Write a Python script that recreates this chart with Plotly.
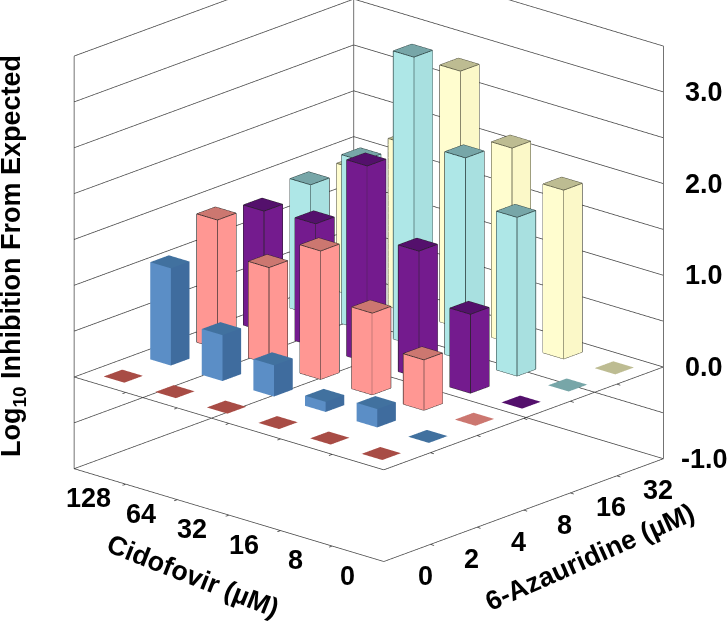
import plotly.graph_objects as go

cidofovir = ["0", "8", "16", "32", "64", "128"]
azauridine = ["0", "2", "4", "8", "16", "32"]
z_ticks = [-1, -0.5, 0, 0.5, 1, 1.5, 2, 2.5, 3, 3.5]
z_text = ["-1.0", "", "0.0", "", "1.0", "", "2.0", "", "3.0", ""]

aza_0 = [0, 0, 0, 0, 0, 0]
aza_2 = [0, 0.20, 0.11, 0.34, 0.50, 1.06]
aza_4 = [0, 0.55, 0.89, 1.40, 1.05, 1.40]
aza_8 = [0, 0.86, 1.38, 2.14, 1.34, 1.31]
aza_16 = [0, 1.73, 2.21, 3.14, 1.84, 1.41]
aza_32 = [0, 1.84, 2.13, 2.80, 1.83, 1.39]

series = [aza_0, aza_2, aza_4, aza_8, aza_16, aza_32]
face_left = ["#A84C45", "#5B8EC6", "#FF9793", "#741B8E", "#AEE7E7", "#FFFDCF"]
face_right = ["#A84C45", "#3F6C9E", "#FF9793", "#741B8E", "#A8E0E0", "#FBF8C8"]
face_top = ["#A84C45", "#41719F", "#CC7770", "#54106C", "#77A6A8", "#BDBC92"]
edge = [None, None, "#222222", "#222222", "#223333", "#444433"]

HALF = 0.2
XR = [-0.5, 5.5]
YR = [-0.5, 5.5]
ZR = [-1, 3.5]
PAD_XY = 0.1
PAD_Z = 0.05

fig = go.Figure()

def bars(values, i, c_l, c_r, c_t, ec, name):
    xs, ys, zs, I, J, K, fc = [], [], [], [], [], [], []
    lx, ly, lz = [], [], []
    for j, h in enumerate(values):
        x0, x1, y0, y1 = i - HALF, i + HALF, j - HALF, j + HALF
        n = len(xs)
        xs += [x0, x1, x1, x0, x0, x1, x1, x0]
        ys += [y0, y0, y1, y1, y0, y0, y1, y1]
        zs += [0, 0, 0, 0, h, h, h, h]
        tri = [(4, 5, 6, c_t), (4, 6, 7, c_t),
               (0, 1, 5, c_r), (0, 5, 4, c_r),
               (0, 3, 7, c_l), (0, 7, 4, c_l)]
        for a, b, c, col in tri:
            I.append(n + a); J.append(n + b); K.append(n + c); fc.append(col)
        if ec and h > 0:
            for a, b in [(4, 5), (5, 6), (6, 7), (7, 4), (0, 1), (0, 3), (0, 4), (1, 5), (3, 7)]:
                lx += [xs[n + a], xs[n + b], None]
                ly += [ys[n + a], ys[n + b], None]
                lz += [zs[n + a], zs[n + b], None]
    fig.add_trace(go.Mesh3d(x=xs, y=ys, z=zs, i=I, j=J, k=K, facecolor=fc, flatshading=True,
                            lighting=dict(ambient=1, diffuse=0, specular=0, fresnel=0),
                            name=name, hoverinfo="skip"))
    if ec:
        fig.add_trace(go.Scatter3d(x=lx, y=ly, z=lz, mode="lines", line=dict(color=ec, width=1.5),
                                   hoverinfo="skip"))

for idx, vals in enumerate(series):
    bars(vals, idx, face_left[idx], face_right[idx], face_top[idx], edge[idx], azauridine[idx])

# frame: walls, floor, zero plane, wall gridlines and cell-boundary ticks
fx, fy, fz = [], [], []
def seg(a, b):
    fx.extend([a[0], b[0], None]); fy.extend([a[1], b[1], None]); fz.extend([a[2], b[2], None])
x0, x1 = XR; y0, y1 = YR; zb, zt = ZR
for z in (zb, 0):
    seg((x0, y0, z), (x1, y0, z)); seg((x0, y0, z), (x0, y1, z))
    seg((x1, y0, z), (x1, y1, z)); seg((x0, y1, z), (x1, y1, z))
for p in ((x1, y1), (x0, y1), (x1, y0)):
    seg((p[0], p[1], zb), (p[0], p[1], zt))
for v in z_ticks:
    seg((x0, y1, v), (x1, y1, v)); seg((x1, y0, v), (x1, y1, v))
for b in [0.5, 1.5, 2.5, 3.5, 4.5]:
    for z in (zb, 0):
        seg((b, y0, z), (b, y0 - 0.07, z))
        seg((x0, b, z), (x0 - 0.07, b, z))
fig.add_trace(go.Scatter3d(x=fx, y=fy, z=fz, mode="lines", line=dict(color="#444444", width=1.5), hoverinfo="skip"))

tick = dict(family="Liberation Sans", size=27, color="black", weight=700)
common = dict(showbackground=False, showspikes=False, zeroline=False, showline=False, ticks="",
              showticklabels=False, showgrid=False, title=dict(text=""))

scene_notes = []
for j, t in enumerate(cidofovir):
    scene_notes.append(dict(x=x0, y=j, z=zb, text=t, showarrow=False, font=tick, xshift=-11, yshift=-22))
for i, t in enumerate(azauridine):
    scene_notes.append(dict(x=i, y=y0, z=zb, text=t, showarrow=False, font=tick, xshift=18, yshift=-23))
for v, t in zip(z_ticks, z_text):
    if t:
        scene_notes.append(dict(x=x1, y=y0, z=v, text=t, showarrow=False, font=tick, xshift=41, yshift=0))

dirv = (-0.70, -0.632, 0.332)
D = 3.0
cen = (-0.0113, 0.0125, -0.187)
fig.update_layout(
    width=727, height=625, margin=dict(l=0, r=0, t=0, b=0), paper_bgcolor="white", showlegend=False,
    annotations=[
        dict(text="Log<sub>10</sub> Inhibition From Expected", x=13/727, y=1-256/625, xref="paper", yref="paper",
             xanchor="center", yanchor="middle", textangle=-90, showarrow=False, font=tick),
        dict(text="Cidofovir (µM)", x=193/727, y=1-576/625, xref="paper", yref="paper",
             xanchor="center", yanchor="middle", textangle=21.5, showarrow=False, font=tick),
        dict(text="6-Azauridine (µM)", x=590/727, y=1-557/625, xref="paper", yref="paper",
             xanchor="center", yanchor="middle", textangle=-24, showarrow=False, font=tick),
    ],
    scene=dict(
        domain=dict(x=[0, 1], y=[0, 1]),
        aspectmode="manual", aspectratio=dict(x=1.3795, y=1.3795, z=1.431),
        camera=dict(projection=dict(type="orthographic"), up=dict(x=0, y=0, z=1),
                    center=dict(x=cen[0], y=cen[1], z=cen[2]),
                    eye=dict(x=cen[0] + D * dirv[0], y=cen[1] + D * dirv[1], z=cen[2] + D * dirv[2])),
        xaxis=dict(common, range=[x0 - PAD_XY, x1 + PAD_XY], tickvals=list(range(6)), ticktext=azauridine),
        yaxis=dict(common, range=[y0 - PAD_XY, y1 + PAD_XY], tickvals=list(range(6)), ticktext=cidofovir),
        zaxis=dict(common, range=[zb - PAD_Z, zt + PAD_Z], tickvals=z_ticks, ticktext=z_text),
        annotations=scene_notes,
    ),
)
fig.write_html("out.html", config=dict(displayModeBar=False), post_script="document.body.style.margin='0';")
